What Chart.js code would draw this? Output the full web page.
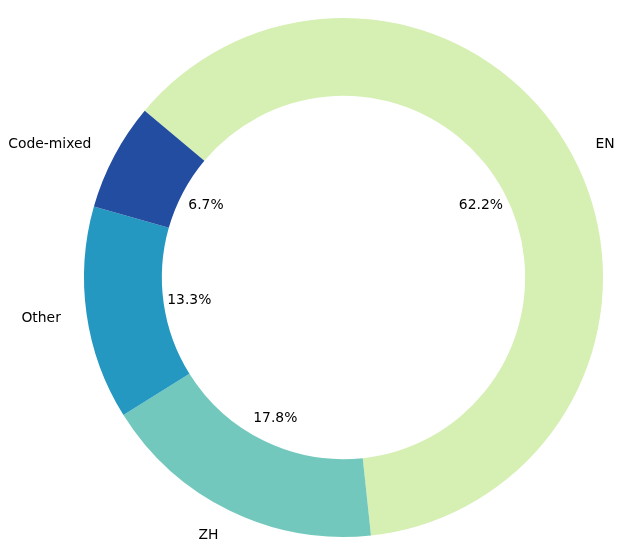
<!DOCTYPE html>
<html lang="en">
<head>
    <meta charset="UTF-8">
    <title>Language distribution</title>
    <script src="https://cdn.jsdelivr.net/npm/chart.js"></script>
    <style>
        body { margin: 0; background: #ffffff; }
        .chart-container { width: 634px; height: 553px; }
    </style>
</head>
<body>

<div class="chart-container"><canvas id="langChart"></canvas></div>

<script>
    const lingue = ["EN", "ZH", "Other", "Code-mixed"];
    const quote = [62.2, 17.8, 13.3, 6.7];
    const colori = ["#d6efb3", "#73c8bd", "#2498c1", "#234da0"];

    // etichette esterne e percentuali, stile matplotlib
    const etichette = {
        id: "etichette",
        afterDatasetsDraw(chart) {
            const ctx = chart.ctx;
            const meta = chart.getDatasetMeta(0);
            const tot = quote.reduce((a, b) => a + b, 0);
            ctx.save();
            ctx.font = "13.9px 'DejaVu Sans'";
            ctx.fillStyle = "#000";
            ctx.textBaseline = "middle";
            meta.data.forEach((arc, i) => {
                const p = arc.getProps(["x", "y", "startAngle", "endAngle", "outerRadius"], true);
                const mid = (p.startAngle + p.endAngle) / 2;
                const cx = Math.cos(mid), cy = Math.sin(mid);
                const lx = p.x + cx * p.outerRadius * 1.1;
                const ly = p.y + cy * p.outerRadius * 1.1 + 1;
                ctx.textAlign = cx >= 0 ? "left" : "right";
                ctx.fillText(lingue[i], lx, ly);
                ctx.textAlign = "center";
                const pct = (quote[i] / tot * 100).toFixed(1) + "%";
                ctx.fillText(pct, p.x + cx * p.outerRadius * 0.6, p.y + cy * p.outerRadius * 0.6 + 1);
            });
            ctx.restore();
        }
    };

    new Chart(document.getElementById("langChart"), {
        type: "doughnut",
        data: {
            labels: lingue,
            datasets: [{
                data: quote,
                backgroundColor: colori,
                borderWidth: 0,
                hoverOffset: 0
            }]
        },
        options: {
            responsive: true,
            maintainAspectRatio: false,
            animation: false,
            rotation: -50,
            cutout: "70%",
            layout: { padding: { left: 84, right: 31, top: 18, bottom: 16 } },
            plugins: {
                legend: { display: false },
                tooltip: { enabled: false }
            }
        },
        plugins: [etichette]
    });
</script>

</body>
</html>
